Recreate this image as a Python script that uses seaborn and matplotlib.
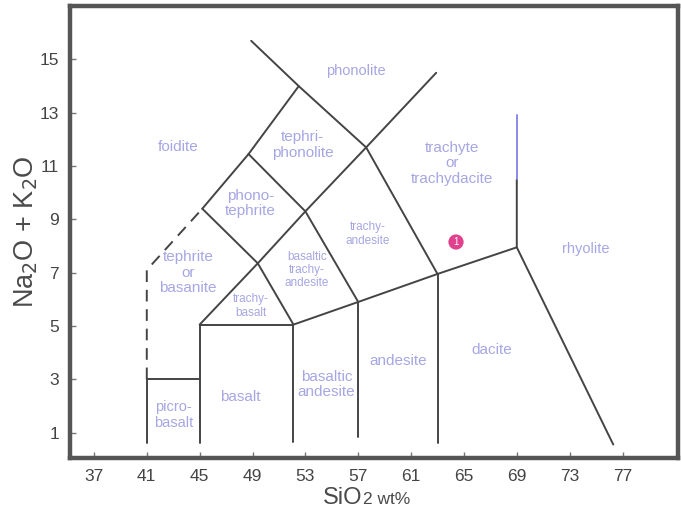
import numpy as np
import pandas as pd
import matplotlib
matplotlib.use('Agg')
import matplotlib.pyplot as plt
import seaborn as sns

# TAS 경계선 (SiO2, Na2O+K2O)
picro_x = [41, 41, 45]
picro_y = [0.6, 3, 3]
basalt_x = [45, 45, 52.1, 52.1]
basalt_y = [0.6, 5.05, 5.05, 0.65]
trachybasalt_x = [45, 49.4, 52.1]
trachybasalt_y = [5.05, 7.35, 5.05]
subalk_x = [52.1, 57, 63, 69]
subalk_y = [5.05, 5.9, 6.95, 7.95]
andesite_x = [57, 57]
andesite_y = [5.9, 0.85]
dacite_x = [63, 63]
dacite_y = [6.95, 0.6]
rhyolite_x = [76.3, 69, 69]
rhyolite_y = [0.55, 7.95, 10.5]
rhyolite_top_x = [69, 69]
rhyolite_top_y = [10.5, 12.9]
tephrite_x = [45.2, 49.4, 53, 57.6, 62.9]
tephrite_y = [9.4, 7.35, 9.3, 11.7, 14.5]
phonotephrite_x = [48.7, 53, 57]
phonotephrite_y = [11.45, 9.3, 5.9]
foidite_x = [45.2, 48.7, 52.5]
foidite_y = [9.4, 11.45, 14.0]
phonolite_x = [48.9, 52.5, 57.6, 63]
phonolite_y = [15.7, 14.0, 11.7, 6.95]
dashed_x = [41, 41, 45.2]
dashed_y = [3, 7.1, 9.4]

# 시료
sample_x = [64.4]
sample_y = [8.15]
sample_id = ['1']

# 암석 이름
names = ['phonolite', 'foidite', 'tephri-\nphonolite', 'phono-\ntephrite',
         'trachyte\nor\ntrachydacite', 'trachy-\nandesite',
         'basaltic\ntrachy-\nandesite', 'tephrite\nor\nbasanite',
         'trachy-\nbasalt', 'rhyolite', 'dacite', 'andesite',
         'basaltic\nandesite', 'basalt', 'picro-\nbasalt']
name_pos = [(56.8, 14.55), (43.4, 11.7), (52.8, 11.8), (48.85, 9.6),
            (64.1, 11.1), (57.7, 8.45), (53.1, 7.1), (44.1, 7.0),
            (48.85, 5.75), (74.2, 7.9), (67.1, 4.1), (60.0, 3.7),
            (54.6, 2.8), (48.1, 2.35), (43.0, 1.65)]
name_size = [10.5, 11, 11, 11, 11, 8.5, 8.5, 11, 8.5, 10.5, 11, 11, 11, 11, 10.5]

xticks = list(range(37, 78, 4))
yticks = list(range(1, 16, 2))

sns.set_theme(style='white')
plt.rcParams['font.family'] = ['Liberation Sans', 'DejaVu Sans']

solid = [(picro_x, picro_y), (basalt_x, basalt_y), (trachybasalt_x, trachybasalt_y),
         (subalk_x, subalk_y), (andesite_x, andesite_y), (dacite_x, dacite_y),
         (rhyolite_x, rhyolite_y), (tephrite_x, tephrite_y),
         (phonotephrite_x, phonotephrite_y), (foidite_x, foidite_y),
         (phonolite_x, phonolite_y)]
rows = []
for i, (xs, ys) in enumerate(solid):
    for j, (a, b) in enumerate(zip(xs, ys)):
        rows.append({'seg': i, 'order': j, 'x': a, 'y': b})
df_lines = pd.DataFrame(rows)

fig = plt.figure(figsize=(6.81, 5.15), dpi=100)
ax = fig.add_axes([0.103, 0.111, 0.8926, 0.877])

sns.lineplot(data=df_lines, x='x', y='y', units='seg', estimator=None, sort=False,
             color='#444444', lw=1.4, ax=ax, legend=False)
sns.lineplot(x=rhyolite_top_x, y=rhyolite_top_y, sort=False, estimator=None,
             color='#8a8ae6', lw=1.4, ax=ax)
sns.lineplot(x=dashed_x, y=dashed_y, sort=False, estimator=None,
             color='#444444', lw=1.4, ax=ax, linestyle=(0, (6, 4)))

for nm, (px, py), fs in zip(names, name_pos, name_size):
    ax.text(px, py, nm, ha='center', va='center', fontsize=fs, color='#a6a6e4',
            linespacing=1.15)

sns.scatterplot(x=sample_x, y=sample_y, s=120, color='#e0408c', edgecolor='none', ax=ax, zorder=5)
for sx, sy, sid in zip(sample_x, sample_y, sample_id):
    ax.text(sx, sy, sid, ha='center', va='center', fontsize=7, color='white', zorder=6)

ax.set_xlim(35.2, 81.2)
ax.set_ylim(0.05, 17.0)
ax.set_xticks(xticks)
ax.set_yticks(yticks)
ax.tick_params(direction='in', length=4, width=1, color='#777777',
               labelsize=12.5, labelcolor='#444444', bottom=True, left=True, pad=8)
for sp in ax.spines.values():
    sp.set_color('#555555')
    sp.set_linewidth(3.2)

ax.set_ylabel('Na$_2$O + K$_2$O', fontsize=19.5, color='#4a4a4a', labelpad=0)
ax.set_xlabel('')
fig.text(0.532, 0.022, 'SiO', fontsize=17, color='#4a4a4a', ha='right', va='baseline')
fig.text(0.533, 0.022, '2 wt%', fontsize=12.5, color='#4a4a4a', ha='left', va='baseline')

fig.savefig('out.png', dpi=100)
